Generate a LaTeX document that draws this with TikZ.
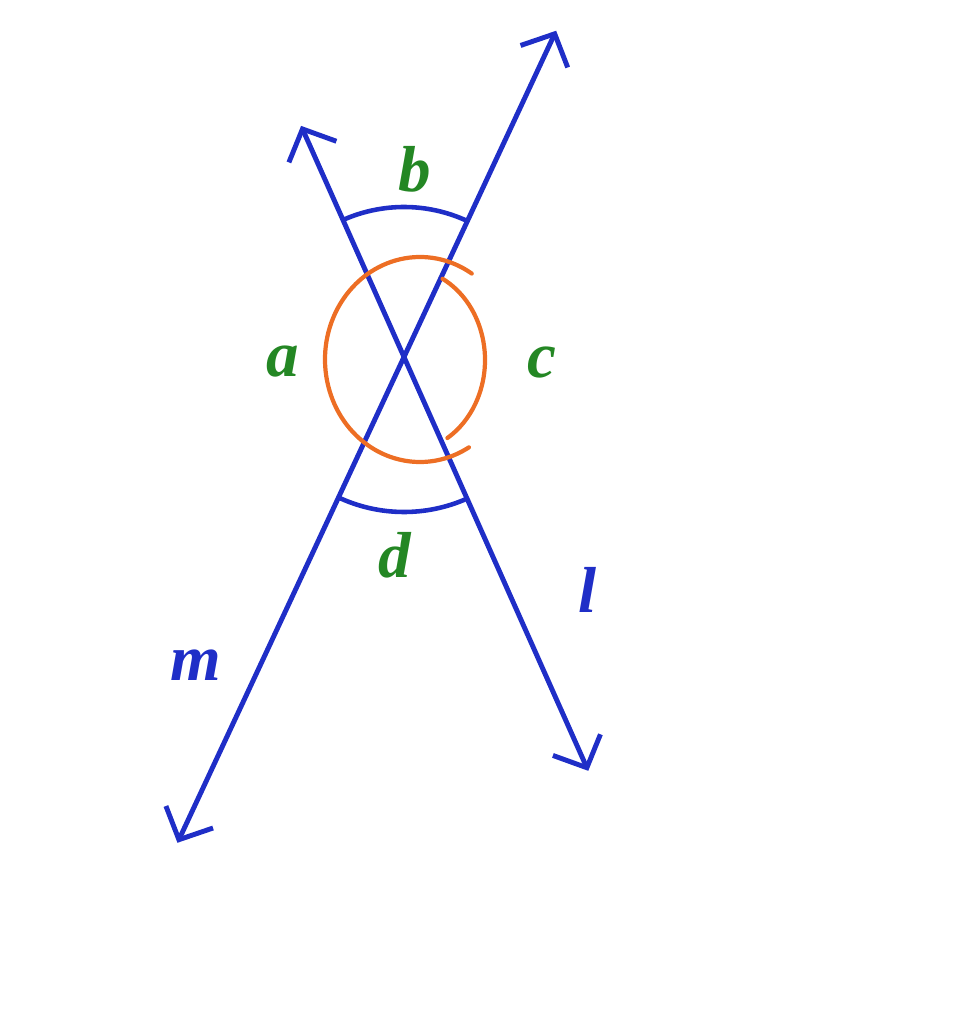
\documentclass[tikz,border=0pt]{standalone}
\usepackage{amsmath}
\usepackage{xcolor}
\usepackage{fontspec}
\setmainfont{Liberation Serif}
\usepackage{tikz}
\usetikzlibrary{arrows.meta}
\usetikzlibrary{calc}
\definecolor{bleu}{rgb}{0.12, 0.18, 0.78}
\definecolor{vert}{rgb}{0.14, 0.53, 0.14}
\definecolor{orangeangle}{rgb}{0.93, 0.43, 0.14}

\begin{document}
\begin{tikzpicture}[
    droite/.style={draw=bleu, line width=1.4pt, line cap=round,
        {Straight Barb[length=2.5mm, width=5.2mm]}-{Straight Barb[length=2.5mm, width=5.2mm]}},
    arcbleu/.style={draw=bleu, line width=1.3pt},
    arcorange/.style={draw=orangeangle, line width=1.2pt, line cap=round},
    lettre/.style={font=\fontsize{18.5}{22}\selectfont\bfseries\itshape, inner sep=0pt}
]
    % Cadre
    \useasboundingbox (0, 0) rectangle (9.62, 10.24);

    % Point d'intersection
    \coordinate (O) at (4.04, 6.67);
    \coordinate (Oa) at (4.20, 6.645);
    \coordinate (Oc) at (4.05, 6.64);

    % Extrémités des droites
    \coordinate (mhaut) at ($(O)+(65:3.6)$);
    \coordinate (mbas) at ($(O)+(245:5.36)$);
    \coordinate (lhaut) at ($(O)+(114:2.53)$);
    \coordinate (lbas) at ($(O)+(294:4.53)$);

    % Droites m et l
    \draw[droite] (mbas) -- (mhaut);
    \draw[droite] (lhaut) -- (lbas);

    % Angles b et d
    \draw[arcbleu] ($(O)+(65:1.5)$) arc[start angle=65, end angle=114, radius=1.5];
    \draw[arcbleu] ($(O)+(245:1.55)$) arc[start angle=245, end angle=294, radius=1.55];

    % Angles a et c
    \draw[arcorange] ($(Oa)+(0.95*0.5446, 1.025*0.8387)$)
        arc[start angle=57, end angle=301, x radius=0.95, y radius=1.025];
    \draw[arcorange] ($(Oc)+(0.80*0.4695, 0.92*0.8829)$)
        arc[start angle=62, end angle=-58, x radius=0.80, y radius=0.92];

    % Lettres des angles
    \node[lettre, text=vert] (la) at (2.83, 6.62) {a};
    \node[lettre, text=vert] (lb) at (4.15, 8.55) {b};
    \node[lettre, text=vert] (lc) at (5.42, 6.62) {c};
    \node[lettre, text=vert] (ld) at (3.95, 4.69) {d};

    % Noms des droites
    \node[lettre, text=bleu] (nm) at (1.96, 3.59) {m};
    \node[lettre, text=bleu] (nl) at (5.88, 4.34) {l};
\end{tikzpicture}
\end{document}
